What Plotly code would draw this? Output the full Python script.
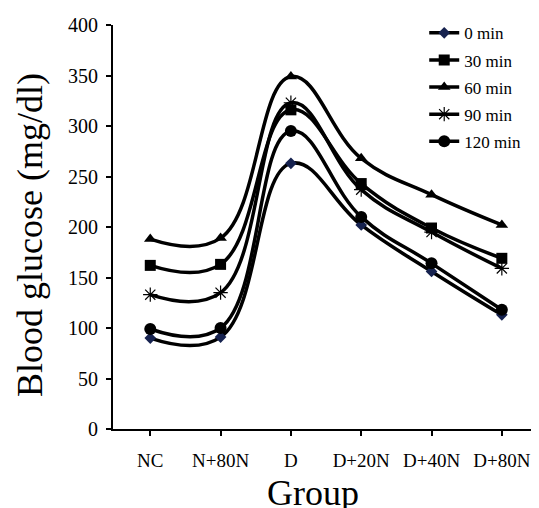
import plotly.graph_objects as go

groups = ["NC", "N+80N", "D", "D+20N", "D+40N", "D+80N"]
series_names = ["0 min", "30 min", "60 min", "90 min", "120 min"]
v_0 = [90, 91, 263, 202, 156, 113]
v_30 = [162, 163, 316, 243, 199, 169]
v_60 = [188, 189, 349, 268, 232, 202]
v_90 = [133, 135, 323, 237, 195, 159]
v_120 = [99, 100, 295, 210, 164, 118]
y_ticks = [0, 50, 100, 150, 200, 250, 300, 350, 400]

series_values = [v_0, v_30, v_60, v_90, v_120]
symbols = ["diamond", "square", "triangle-up", "asterisk-open", "circle"]
sizes = [9, 11, 11, 12, 12]
mcolors = ["#16224f", "black", "black", "black", "black"]

font_fam = "Liberation Serif, Times New Roman, serif"
fig = go.Figure()
xs = list(range(len(groups)))
for name, vals, sym, sz, mc in zip(series_names, series_values, symbols, sizes, mcolors):
    fig.add_trace(go.Scatter(
        x=xs, y=vals, name=name, mode="lines+markers",
        line=dict(color="black", width=3.5, shape="spline", smoothing=1.2),
        marker=dict(symbol=sym, size=sz, color=mc, line=dict(color="black", width=1.2 if "asterisk" in sym else 0)),
        legendgroup=name,
    ))

fig.update_layout(
    width=531, height=500,
    margin=dict(l=105, r=2, t=17, b=79, autoexpand=False),
    paper_bgcolor="white", plot_bgcolor="white",
    font=dict(family=font_fam, color="black"),
    showlegend=True,
    legend=dict(x=0.734, y=1.024, xanchor="left", yanchor="top",
                bgcolor="rgba(0,0,0,0)", font=dict(size=17, family=font_fam),
                tracegroupgap=2),
    xaxis=dict(
        range=[-0.53, 5.5], tickmode="array", tickvals=xs, ticktext=groups,
        showline=True, linecolor="black", linewidth=2, ticks="outside", ticklen=5,
        tickwidth=2, tickcolor="black", showgrid=False, zeroline=False,
        tickfont=dict(size=19, family=font_fam), ticklabelstandoff=8, automargin=False,
    ),
    yaxis=dict(
        range=[0, 400], tickmode="array", tickvals=y_ticks,
        showline=True, linecolor="black", linewidth=2, ticks="outside", ticklen=5,
        tickwidth=2, tickcolor="black", showgrid=False, zeroline=False,
        tickfont=dict(size=20, family=font_fam), ticklabelstandoff=4, automargin=False,
    ),
    annotations=[
        dict(text="Group", xref="paper", yref="paper", x=0.472, y=-0.158,
             xanchor="center", yanchor="middle", showarrow=False,
             font=dict(size=36, family=font_fam)),
        dict(text="Blood glucose (mg/dl)", xref="paper", yref="paper", x=-0.196, y=0.48,
             xanchor="center", yanchor="middle", showarrow=False, textangle=-90,
             font=dict(size=36, family=font_fam)),
    ],
)
fig.write_html("out.html")
